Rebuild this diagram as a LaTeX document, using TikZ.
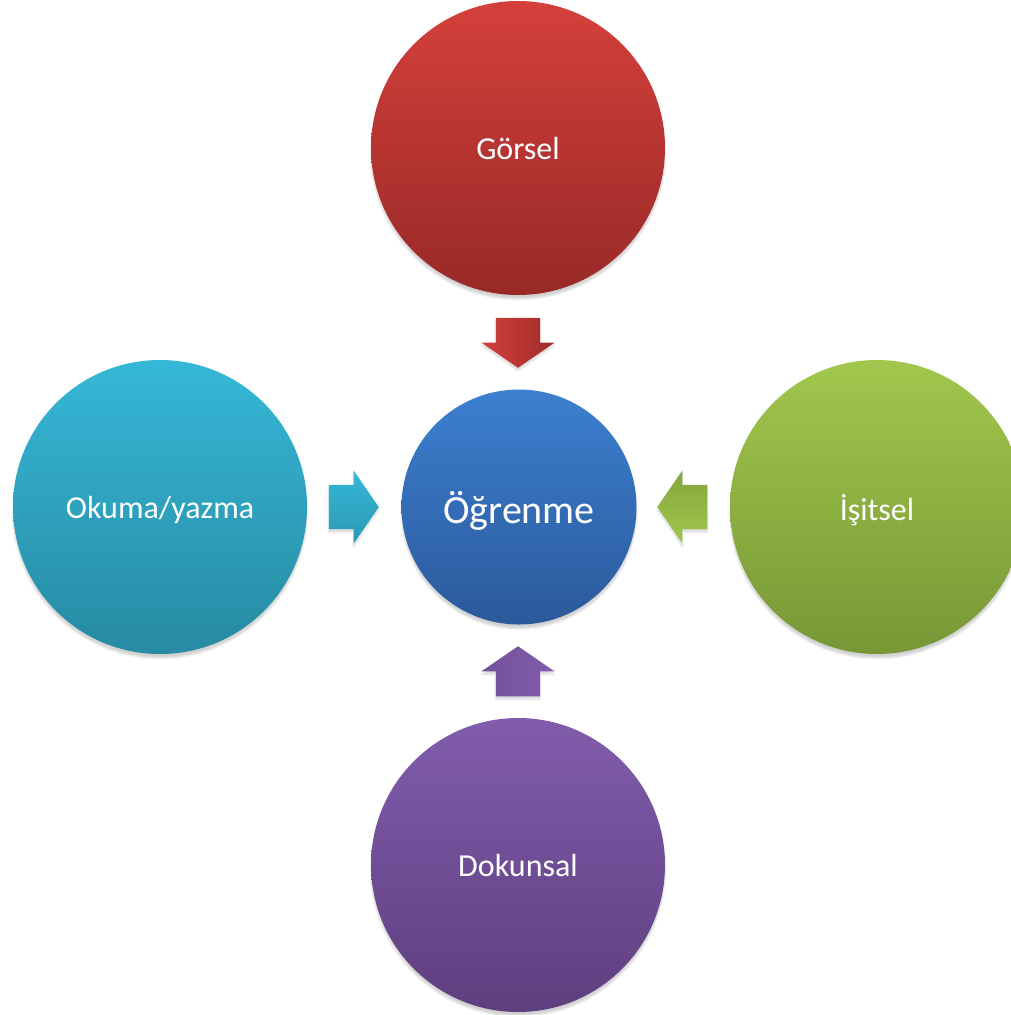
\documentclass[tikz,border=0pt]{standalone}
\usepackage{fontspec}
\setmainfont{Carlito}
\usetikzlibrary{shapes.arrows}
\usetikzlibrary{shadows.blur}
\definecolor{redtop}{RGB}{212,64,60}
\definecolor{redbot}{RGB}{152,41,39}
\definecolor{bluetop}{RGB}{60,128,208}
\definecolor{bluebot}{RGB}{43,89,155}
\definecolor{greentop}{RGB}{161,199,77}
\definecolor{greenbot}{RGB}{119,151,54}
\definecolor{cyantop}{RGB}{54,184,216}
\definecolor{cyanbot}{RGB}{38,138,162}
\definecolor{purpletop}{RGB}{129,92,172}
\definecolor{purplebot}{RGB}{94,63,127}

\begin{document}
\begin{tikzpicture}[x=1pt,y=-1pt,
  ball/.style={circle, minimum size=294pt, inner sep=0, text=white, text depth=0pt,
    font=\fontsize{32}{38}\selectfont,
    blur shadow={shadow xshift=0pt, shadow yshift=-4pt, shadow opacity=18, shadow blur steps=6}},
  blockarrow/.style={single arrow, anchor=tip, minimum height=50pt, inner xsep=0, inner ysep=22pt,
    text height=0pt, text depth=0pt,
    single arrow head extend=14.5pt, single arrow tip angle=111,
    blur shadow={shadow xshift=0pt, shadow yshift=-3pt, shadow opacity=15, shadow blur steps=4}}]
\useasboundingbox (0,0) rectangle (1010,1015);
% the four styles round the centre
\node[ball, top color=redtop, bottom color=redbot] (gorsel) at (518,148) {Görsel};
\node[ball, top color=cyantop, bottom color=cyanbot] (okuma) at (160,507) {Okuma/yazma};
\node[ball, top color=greentop, bottom color=greenbot] (isitsel) at (877,507) {İşitsel};
\node[ball, top color=purpletop, bottom color=purplebot] (dokunsal) at (518,865) {Dokunsal};
% centre
\node[ball, minimum size=235pt, font=\fontsize{40}{48}\selectfont,
  top color=bluetop, bottom color=bluebot] (ogrenme) at (519,507) {Öğrenme};
% arrows
\node[blockarrow, rotate=-90, top color=redtop, bottom color=redbot!90!redtop, shading angle=90] (ok-g) at (518,368) {};
\node[blockarrow, rotate=0, top color=cyantop, bottom color=cyanbot!70!cyantop] (ok-o) at (379,507) {};
\node[blockarrow, rotate=180, top color=greentop, bottom color=greenbot!70!greentop, shading angle=180] (ok-i) at (657,507) {};
\node[blockarrow, rotate=90, top color=purpletop, bottom color=purplebot!40!purpletop, shading angle=-90] (ok-d) at (518,646) {};
\end{tikzpicture}
\end{document}
